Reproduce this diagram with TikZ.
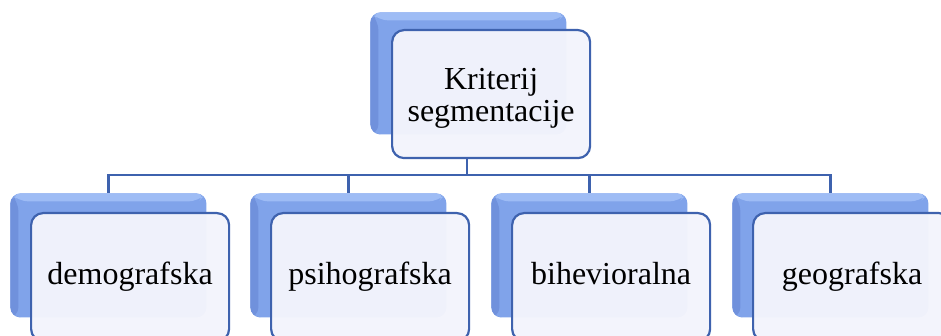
\documentclass[tikz,border=0pt]{standalone}
\usepackage{fontspec}
\setmainfont{Liberation Serif}
\usetikzlibrary{positioning}

\definecolor{shadowblue}{RGB}{128,163,234}
\definecolor{shadowlight}{RGB}{158,188,245}
\definecolor{shadowdark}{RGB}{112,145,220}
\definecolor{boxfill}{RGB}{243,244,252}
\definecolor{boxline}{RGB}{62,98,174}

\tikzset{
  backbox/.style={rounded corners=5pt, fill=shadowblue, inner sep=0pt,
    minimum width=98pt, minimum height=61pt, anchor=north west,
    path picture={
      \fill[shadowdark] (path picture bounding box.north west) -- ++(4pt,-4pt)
        -- ([xshift=4pt]path picture bounding box.south west)
        -- (path picture bounding box.south west) -- cycle;
      \fill[shadowlight] (path picture bounding box.north west) -- ++(4pt,-4pt)
        -- ([xshift=-4pt,yshift=-4pt]path picture bounding box.north east)
        -- (path picture bounding box.north east) -- cycle;}},
  frontbox/.style={rounded corners=6pt, draw=boxline, line width=1.1pt,
    fill=boxfill, fill opacity=0.97, text opacity=1, inner sep=0pt,
    minimum width=99pt, minimum height=64pt, align=center,
    font=\fontsize{16}{16}\selectfont},
  segbox/.style={frontbox, anchor=north west, text height=11pt, text depth=3.5pt},
  bus/.style={draw=boxline, line width=1.2pt}
}

\begin{document}
\begin{tikzpicture}[x=0.5pt, y=-0.5pt]
  \useasboundingbox (0,0) rectangle (941,336);

  % top criterion
  \node[backbox] (topback) at (370,12) {};
  \node[frontbox, anchor=north west] (top) at (391,29) {};
  \node[font=\fontsize{16}{16}\selectfont, align=center, inner sep=0pt,
        yshift=-2pt] (toptext) at (top.center) {Kriterij\\segmentacije};

  % the four segments
  \node[backbox, minimum height=62pt] (back1) at (10,193) {};
  \node[backbox, minimum height=62pt] (back2) at (250,193) {};
  \node[backbox, minimum height=62pt] (back3) at (491,193) {};
  \node[backbox, minimum height=62pt] (back4) at (732,193) {};

  \node[segbox] (seg1) at (30,212) {demografska};
  \node[segbox] (seg2) at (270,212) {psihografska};
  \node[segbox] (seg3) at (511,212) {bihevioralna};
  \node[segbox] (seg4) at (752,212) {geografska};

  % connectors
  \coordinate (fork) at (467,175);
  \draw[bus] (top.south -| fork) -- (fork);
  \draw[bus] (fork) -| (back1.north);
  \draw[bus] (fork) -| (back2.north);
  \draw[bus] (fork) -| (back3.north);
  \draw[bus] (fork) -| (back4.north);
\end{tikzpicture}
\end{document}
